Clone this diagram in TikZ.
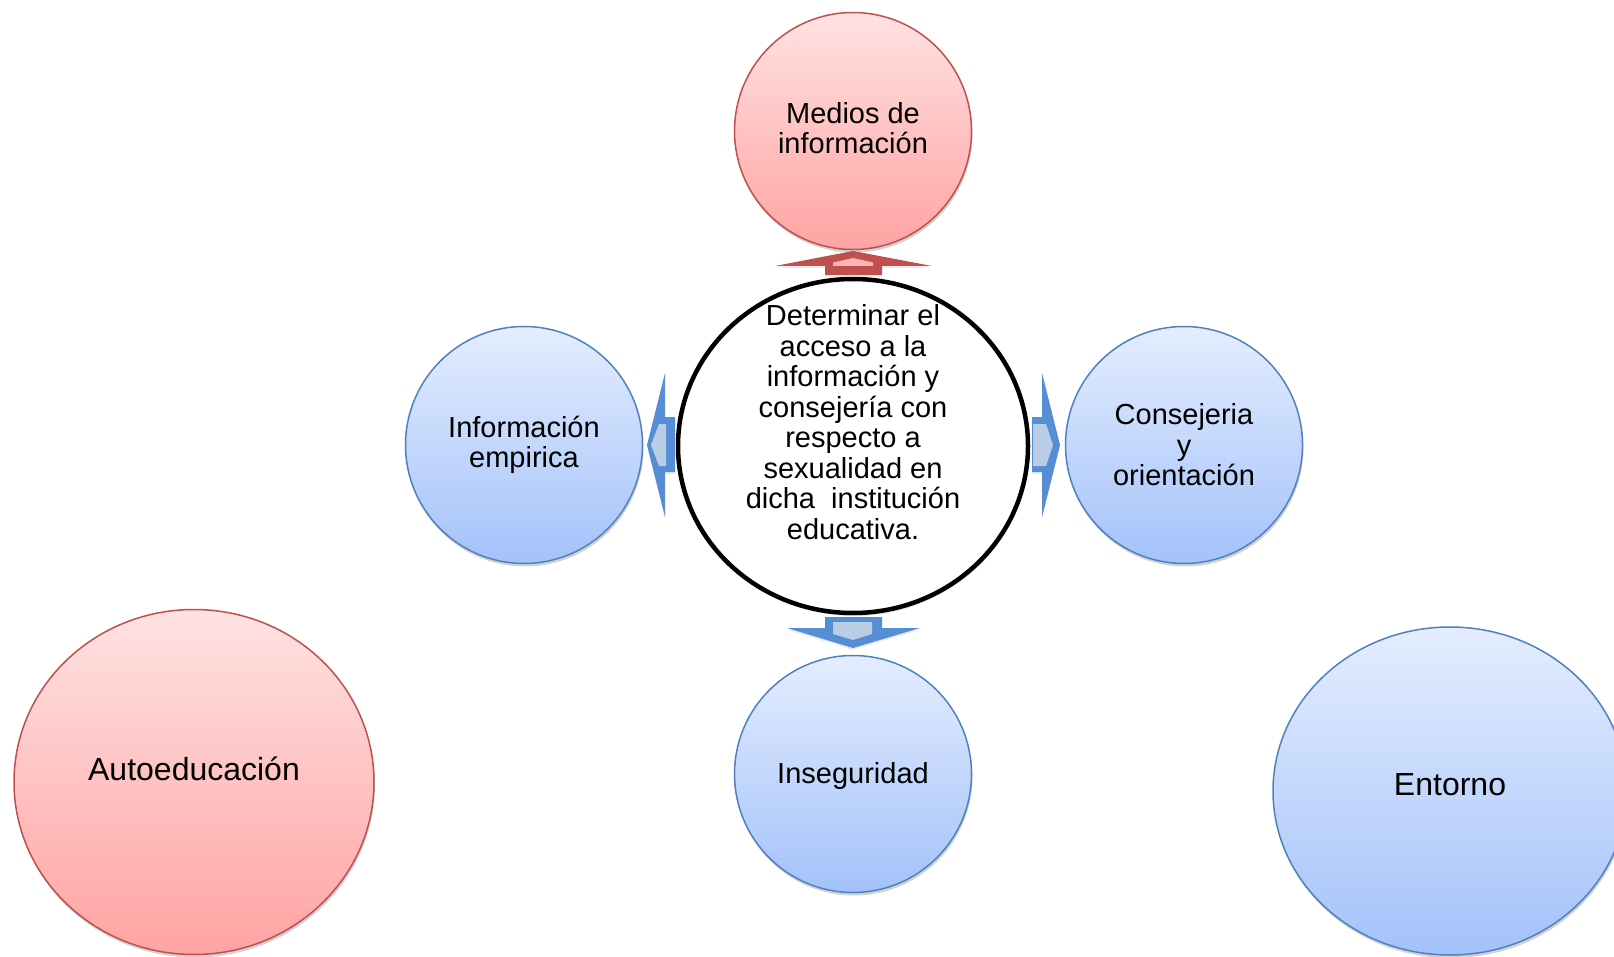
\documentclass[tikz,border=0pt]{standalone}
\usepackage{fontspec}
\setmainfont{Liberation Sans}
\usetikzlibrary{shapes.geometric,shadows}

\definecolor{redline}{HTML}{C0504D}
\definecolor{redtop}{HTML}{FFE2E2}
\definecolor{redbot}{HTML}{FFA3A3}
\definecolor{blueline}{HTML}{4F81BD}
\definecolor{bluetop}{HTML}{E4EDFE}
\definecolor{bluebot}{HTML}{A3C2FA}
\definecolor{arrowblue}{HTML}{558ED5}
\definecolor{arrowinner}{HTML}{B9CDE5}
\definecolor{redinner}{HTML}{FFB3B3}

\begin{document}
\begin{tikzpicture}[x=1pt,y=-1pt,
  softshadow/.style={drop shadow={shadow xshift=1pt, shadow yshift=-3pt, opacity=0.25, fill=black!70}},
  bub/.style={ellipse, inner sep=0pt, line width=1.5pt, softshadow, align=center,
    font=\fontsize{29}{30.5}\selectfont},
  redbub/.style={bub, draw=redline, top color=redtop, bottom color=redbot},
  bluebub/.style={bub, draw=blueline, top color=bluetop, bottom color=bluebot},
  small/.style={minimum width=237pt, minimum height=237pt},
  txt/.style={align=center, inner sep=0pt, font=\fontsize{29}{30.5}\selectfont},
  bigtxt/.style={inner sep=0pt, font=\fontsize{32}{34}\selectfont},
  bluearrow/.style={fill=arrowblue, drop shadow={shadow xshift=0pt, shadow yshift=-2pt, opacity=0.15}},
  redarrow/.style={fill=redline, drop shadow={shadow xshift=0pt, shadow yshift=-2pt, opacity=0.15}},
]
\clip (0,0) rectangle (1614,957);
\fill[white] (0,0) rectangle (1614,957);

% circles
\node[redbub, small] (medios) at (853,131) {};
\node[txt] (mediostxt) at (853,128) {Medios de\\información};
\node[bluebub, small] (info) at (524,445) {Información\\empirica};
\node[bluebub, small] (consejo) at (1184,445) {Consejeria\\y\\orientación};
\node[bluebub, small] (inseg) at (853,774) {};
\node[txt] (insegtxt) at (853,776) {Inseguridad};
\node[redbub, minimum width=360pt, minimum height=345pt] (auto) at (194,782) {};
\node[bigtxt, anchor=base] (autotxt) at (194,780) {Autoeducación};
\node[bluebub, minimum width=354pt, minimum height=328pt] (entorno) at (1450,791) {};
\node[bigtxt, anchor=base] (entornotxt) at (1450,795) {Entorno};

% central
\node[ellipse, draw=black, line width=4.5pt, fill=white, minimum width=350pt, minimum height=334pt,
  drop shadow={shadow xshift=1pt, shadow yshift=-3pt, opacity=0.2}] (centro) at (853,446) {};
\node[txt] (centrotxt) at (853,422) {Determinar el\\acceso a la\\información y\\consejería con\\respecto a\\sexualidad en\\dicha\ \ institución\\educativa.};

% block arrows
\fill[redarrow] (825,275) -- (825,266) -- (775,266) -- (853,251) -- (932,266) -- (882,266) -- (882,275) -- cycle;
\fill[redinner] (833,266) -- (833,262.5) -- (853,258) -- (873,262.5) -- (873,266) -- cycle;

\fill[bluearrow] (675,417) -- (665,417) -- (665,373) -- (647,445) -- (665,517) -- (665,472) -- (675,472) -- cycle;
\fill[arrowinner] (666,424) -- (659,424) -- (651,445) -- (659,466) -- (666,466) -- cycle;

\fill[bluearrow] (1032,417) -- (1042,417) -- (1042,373) -- (1060,445) -- (1042,517) -- (1042,472) -- (1032,472) -- cycle;
\fill[arrowinner] (1033,424) -- (1046,424) -- (1053,445) -- (1046,466) -- (1033,466) -- cycle;

\fill[bluearrow] (825,617) -- (882,617) -- (882,628) -- (920,628) -- (853,648) -- (787,628) -- (825,628) -- cycle;
\fill[arrowinner] (833,622) -- (872,622) -- (872,634) -- (853,640) -- (833,634) -- cycle;
\end{tikzpicture}
\end{document}
